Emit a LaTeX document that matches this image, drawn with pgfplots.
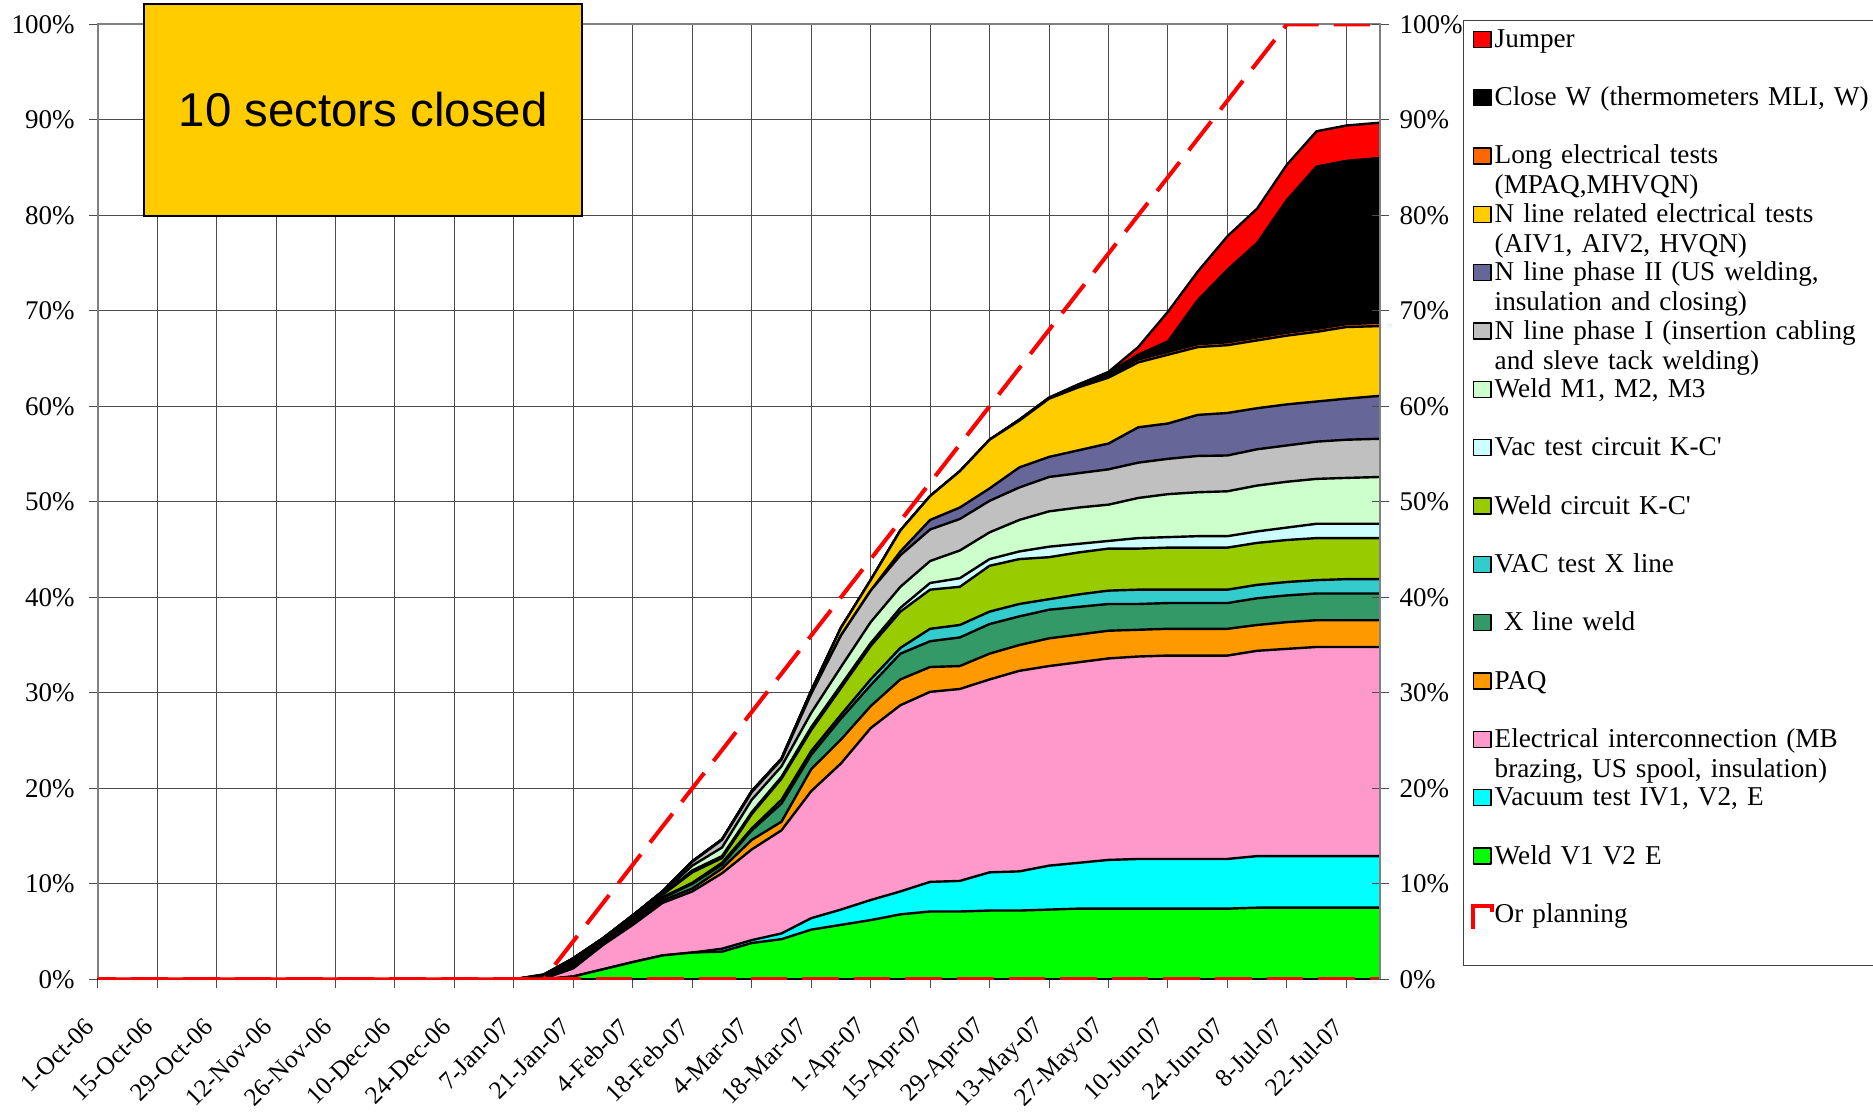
\documentclass[border=0pt]{standalone}
\usepackage{fontspec}
\setmainfont{Liberation Serif}
\newfontfamily\arialf{Liberation Sans}
\usepackage{pgfplots}
\pgfplotsset{compat=1.18}
\usepackage{pgfplotstable}

\definecolor{cJump}{HTML}{FF0000}
\definecolor{cClose}{HTML}{000000}
\definecolor{cLong}{HTML}{FF6600}
\definecolor{cNel}{HTML}{FFCC00}
\definecolor{cNII}{HTML}{666699}
\definecolor{cNI}{HTML}{C0C0C0}
\definecolor{cWM}{HTML}{CCFFCC}
\definecolor{cVKC}{HTML}{CCFFFF}
\definecolor{cWKC}{HTML}{99CC00}
\definecolor{cVX}{HTML}{33CCCC}
\definecolor{cXW}{HTML}{339966}
\definecolor{cPAQ}{HTML}{FF9900}
\definecolor{cEl}{HTML}{FF99CC}
\definecolor{cVac}{HTML}{00FFFF}
\definecolor{cWV}{HTML}{00FF00}
\definecolor{boxy}{HTML}{FFCC00}

% cumulative stack tops (percent), days after 1-Oct-06
\pgfplotstableread{
d c1 c2 c3 c4 c5 c6 c7 c8 c9 c10 c11 c12 c13 c14 c15 p
0 0 0 0 0 0 0 0 0 0 0 0 0 0 0 0 0
98 0 0 0 0 0 0 0 0 0 0 0 0 0 0 0 0
105 0 0 0.05 0.1 0.15 0.17 0.22 0.25 0.3 0.4 0.4 0.45 0.45 0.5 0.5 0
112 0.3 0.3 1.15 1.3 1.45 1.5 1.7 1.75 1.95 2.2 2.2 2.2 2.2 2.2 2.2 4
119 1.05 1.05 3.6 3.7 3.8 3.85 4.0 4.05 4.15 4.3 4.3 4.3 4.3 4.3 4.3 8
126 1.8 1.8 5.7 5.85 6.0 6.05 6.3 6.35 6.5 6.7 6.7 6.7 6.7 6.7 6.7 12
133 2.5 2.5 8.0 8.25 8.5 8.6 8.85 8.9 9.05 9.2 9.2 9.2 9.2 9.2 9.2 16
140 2.8 2.8 9.2 9.5 10.0 10.1 11.2 11.4 11.9 12.3 12.3 12.35 12.35 12.35 12.35 20
147 2.9 3.2 11.1 11.6 12.0 12.2 12.7 12.9 13.8 14.6 14.6 14.65 14.65 14.65 14.65 24
154 3.8 4.1 13.6 14.6 15.6 15.8 17.3 17.5 18.8 19.6 19.6 19.7 19.7 19.7 19.7 28
161 4.2 4.8 15.6 16.5 18.4 18.8 21.0 21.2 22.3 23.0 23.0 23.1 23.1 23.1 23.1 32
168 5.2 6.4 19.7 22.0 23.5 23.9 26.1 26.4 27.9 29.9 29.9 30.2 30.2 30.2 30.2 36
175 5.7 7.3 22.6 25.1 27.3 27.7 30.5 30.8 32.7 36.0 36.0 36.8 36.8 36.8 36.8 40
182 6.2 8.3 26.3 28.6 30.8 31.4 34.9 35.2 37.4 40.7 40.7 41.8 41.8 41.8 41.8 44
189 6.8 9.2 28.7 31.4 34.1 34.7 38.5 38.9 41.1 44.4 44.8 47.0 47.0 47.0 47.0 48
196 7.1 10.2 30.1 32.7 35.4 36.7 40.8 41.5 43.8 47.1 48.1 50.6 50.6 50.6 50.6 52
203 7.1 10.3 30.4 32.8 35.8 37.1 41.1 42.0 44.9 48.2 49.4 53.2 53.2 53.2 53.2 56
210 7.2 11.2 31.4 34.1 37.2 38.5 43.3 44.0 46.8 50.1 51.4 56.5 56.5 56.5 56.5 60
217 7.2 11.3 32.3 35.0 38.0 39.3 44.0 44.8 48.1 51.5 53.6 58.5 58.5 58.6 58.6 64
224 7.3 11.9 32.8 35.7 38.7 39.8 44.2 45.3 49.0 52.6 54.7 60.8 60.85 60.9 60.9 68
231 7.4 12.2 33.2 36.1 39.0 40.3 44.7 45.6 49.4 53.0 55.4 62.0 62.1 62.3 62.3 72
238 7.4 12.5 33.6 36.5 39.3 40.7 45.1 45.9 49.7 53.4 56.1 63.0 63.2 63.5 63.6 76
245 7.4 12.6 33.8 36.6 39.3 40.8 45.1 46.2 50.4 54.1 57.8 64.6 64.9 65.4 66.2 80
252 7.4 12.6 33.9 36.7 39.4 40.8 45.2 46.3 50.8 54.5 58.2 65.4 65.7 66.8 69.9 84
259 7.4 12.6 33.9 36.7 39.4 40.8 45.2 46.4 51.0 54.8 59.1 66.2 66.5 71.1 74.1 88
266 7.4 12.6 33.9 36.7 39.4 40.8 45.2 46.4 51.1 54.85 59.3 66.4 66.7 74.3 77.8 92
273 7.5 12.9 34.4 37.1 39.9 41.3 45.7 46.9 51.7 55.5 59.8 66.9 67.2 77.1 80.7 96
280 7.5 12.9 34.6 37.4 40.2 41.6 46.0 47.3 52.1 55.9 60.2 67.4 67.7 81.6 85.3 100
287 7.5 12.9 34.8 37.6 40.4 41.8 46.2 47.7 52.4 56.3 60.5 67.8 68.1 85.1 88.8 100
294 7.5 12.9 34.8 37.6 40.4 41.9 46.2 47.7 52.5 56.5 60.8 68.3 68.6 85.7 89.4 100
302 7.5 12.9 34.8 37.6 40.4 41.9 46.2 47.7 52.6 56.6 61.1 68.4 68.75 86.0 89.7 100
}\data

\pgfplotsset{
  stk/.style={fill=#1, draw=black, line width=1.2pt, line join=round,
    legend image code/.code={\draw[##1, line width=0.75pt, solid]
      (0pt,4.085pt) -- (0pt,12.085pt) -- (8.75pt,12.085pt) -- (8.75pt,4.085pt) -- cycle;}},
}

\begin{document}
\begin{tikzpicture}
\useasboundingbox (-48.85pt,-67.35pt) rectangle (887.65pt,489.65pt);
\begin{axis}[
  at={(0pt,0pt)}, anchor=south west,
  scale only axis, width=641.3pt, height=477.5pt,
  xmin=0, xmax=302, ymin=0, ymax=100,
  xtick={0,14,...,294},
  xticklabels={1-Oct-06,15-Oct-06,29-Oct-06,12-Nov-06,26-Nov-06,10-Dec-06,24-Dec-06,7-Jan-07,21-Jan-07,4-Feb-07,18-Feb-07,4-Mar-07,18-Mar-07,1-Apr-07,15-Apr-07,29-Apr-07,13-May-07,27-May-07,10-Jun-07,24-Jun-07,8-Jul-07,22-Jul-07},
  ytick={0,10,...,100},
  yticklabel={\pgfmathprintnumber[assume math mode=true]{\tick}\%},
  ytick pos=left, xtick pos=bottom,
  tick align=outside, major tick length=4.3pt,
  tick style={black!70, line width=0.5pt},
  grid=major, grid style={black!70, line width=0.5pt},
  axis line style={black!50, line width=1pt},
  tick label style={font=\fontsize{13.5}{15}\selectfont},
  yticklabel style={inner sep=0pt, xshift=-7pt},
  xticklabel style={font=\fontsize{12.6}{15}\selectfont, inner sep=0pt, xshift=-4pt, yshift=-17.5pt, rotate=45, anchor=east},
  legend cell align=left,
  legend style={
    at={(1.06417,1.0045)}, anchor=north west,
    draw=black!75, line width=0.6pt, fill=white,
    inner xsep=4.05pt, inner ysep=2.85pt,
    row sep=0pt, column sep=0.2pt,
    font=\fontsize{13.6}{15}\selectfont,
    nodes={text width=200pt, align=left, text height=9.5pt, text depth=17.67pt,
           inner xsep=0pt, inner ysep=1pt},
  },
]
\addplot[stk=cJump] table[x=d,y=c15]{\data} \closedcycle;
\addlegendentry{Jumper}
\addplot[stk=cClose] table[x=d,y=c14]{\data} \closedcycle;
\addlegendentry{Close W (thermometers MLI, W)}
\addplot[stk=cLong] table[x=d,y=c13]{\data} \closedcycle;
\addlegendentry{Long electrical tests\\(MPAQ,MHVQN)}
\addplot[stk=cNel] table[x=d,y=c12]{\data} \closedcycle;
\addlegendentry{N line related electrical tests\\(AIV1, AIV2, HVQN)}
\addplot[stk=cNII] table[x=d,y=c11]{\data} \closedcycle;
\addlegendentry{N line phase II (US welding,\\insulation and closing)}
\addplot[stk=cNI] table[x=d,y=c10]{\data} \closedcycle;
\addlegendentry{N line phase I (insertion cabling\\and sleve tack welding)}
\addplot[stk=cWM] table[x=d,y=c9]{\data} \closedcycle;
\addlegendentry{Weld M1, M2, M3}
\addplot[stk=cVKC] table[x=d,y=c8]{\data} \closedcycle;
\addlegendentry{Vac test circuit K-C\textquotesingle}
\addplot[stk=cWKC] table[x=d,y=c7]{\data} \closedcycle;
\addlegendentry{Weld circuit K-C\textquotesingle}
\addplot[stk=cVX] table[x=d,y=c6]{\data} \closedcycle;
\addlegendentry{VAC test X line}
\addplot[stk=cXW] table[x=d,y=c5]{\data} \closedcycle;
\addlegendentry{\ X line weld}
\addplot[stk=cPAQ] table[x=d,y=c4]{\data} \closedcycle;
\addlegendentry{PAQ}
\addplot[stk=cEl] table[x=d,y=c3]{\data} \closedcycle;
\addlegendentry{Electrical interconnection (MB\\brazing, US spool, insulation)}
\addplot[stk=cVac] table[x=d,y=c2]{\data} \closedcycle;
\addlegendentry{Vacuum test IV1, V2, E}
\addplot[stk=cWV] table[x=d,y=c1]{\data} \closedcycle;
\addlegendentry{Weld V1 V2 E}
\addplot[red, line width=2pt, dash pattern=on 18.3pt off 7.5pt,
  legend image code/.code={\draw[red, line width=2pt, dash pattern=on 24pt off 30pt]
     (0pt,1pt) -- (0pt,12.5pt) -- (9.5pt,12.5pt) -- (9.5pt,1pt) -- cycle;}]
  table[x=d,y=p]{\data};
\addlegendentry{Or planning}
\addplot[red, line width=2pt, dash pattern=on 18.3pt off 7.5pt, dash phase=9pt, forget plot]
  coordinates {(0,0) (302,0)};
\end{axis}
\begin{axis}[
  at={(0pt,0pt)}, anchor=south west,
  scale only axis, width=641.3pt, height=477.5pt,
  xmin=0, xmax=302, ymin=0, ymax=100,
  axis x line=none, axis y line*=right,
  ytick={0,10,...,100},
  yticklabel={\pgfmathprintnumber[assume math mode=true]{\tick}\%},
  tick align=center, major tick length=8.4pt,
  tick style={black!70, line width=0.5pt},
  axis line style={black!50, line width=1pt},
  tick label style={font=\fontsize{13.5}{15}\selectfont},
  yticklabel style={anchor=west, inner sep=0pt, xshift=5.3pt},
]
\end{axis}
\node[draw=black, line width=1pt, fill=boxy, minimum width=219.2pt, minimum height=105.85pt,
  inner sep=0pt, anchor=south west, font=\arialf\fontsize{23.7}{28}\selectfont]
  at (22.6pt,381.3pt) {10 sectors closed};
\end{tikzpicture}
\end{document}
